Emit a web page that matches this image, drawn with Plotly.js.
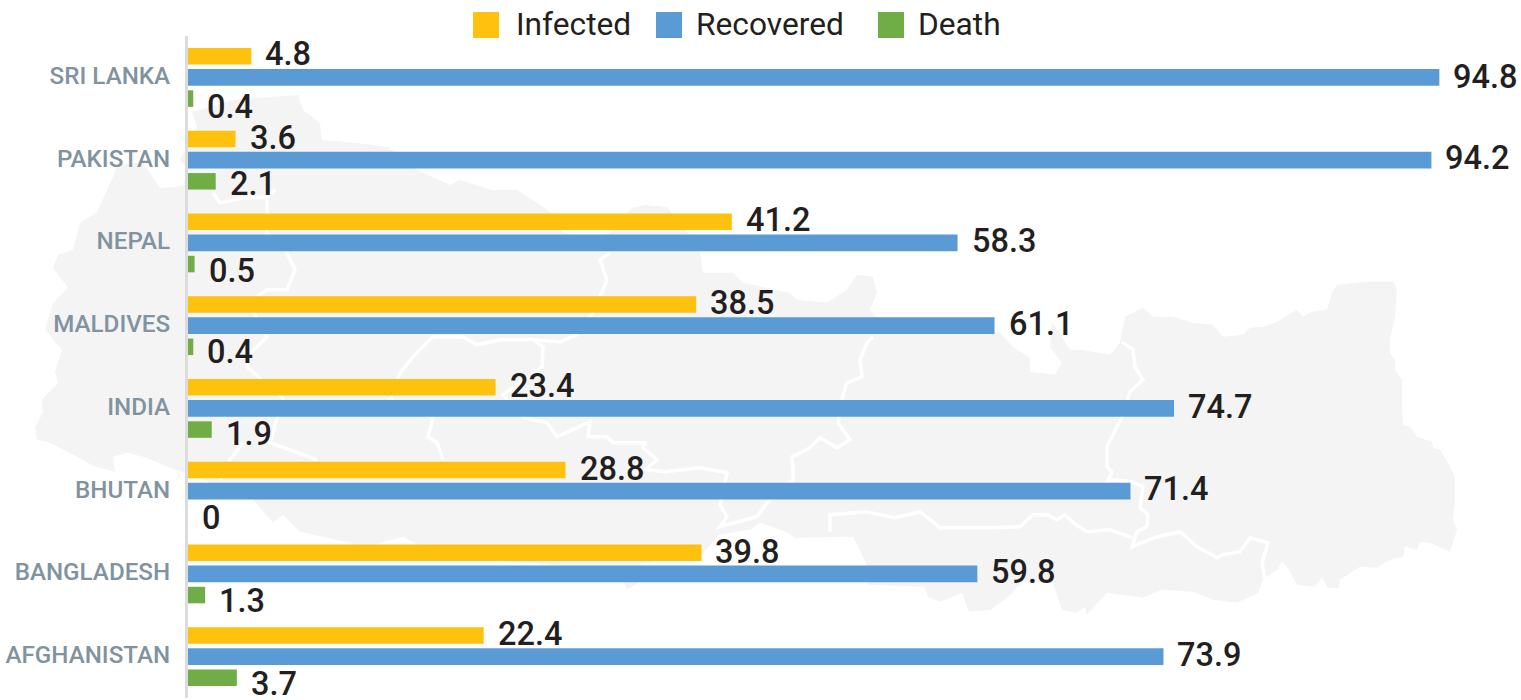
<!DOCTYPE html>
<html>
<head>
<meta charset="utf-8">
<script src="https://cdn.plot.ly/plotly-3.0.1.min.js"></script>
<style>html,body{margin:0;padding:0;background:#fff;overflow:hidden}#chart{width:1521px;height:700px}</style>
</head>
<body>
<div id="chart"></div>
<script>
const categories = ["SRI LANKA","PAKISTAN","NEPAL","MALDIVES","INDIA","BHUTAN","BANGLADESH","AFGHANISTAN"];
// Bar lengths as drawn in the reference
const infected  = [4.8,3.6,41.2,38.5,23.3,28.6,38.9,22.4];
const recovered = [94.8,94.2,58.3,61.1,74.7,71.4,59.8,73.9];
const death     = [0.4,2.1,0.5,0.4,1.8,0,1.3,3.7];
// Printed labels (a few differ slightly from the drawn lengths in the reference)
const infectedLabels  = ["4.8","3.6","41.2","38.5","23.4","28.8","39.8","22.4"];
const recoveredLabels = ["94.8","94.2","58.3","61.1","74.7","71.4","59.8","73.9"];
const deathLabels     = ["0.4","2.1","0.5","0.4","1.9","0","1.3","3.7"];

const W = 1521, H = 700;
const M = {l:188, r:0, t:36, b:1.6};

// Faint backdrop map of the region, traced in page pixels
const backdropOutline = [[192,112],[233,100],[298,95],[303,110],[320,123],[322,140],[357,143],[388,147],[417,170],[450,185],[460,180],[492,190],[517,190],[533,200],[550,212],[563,232],[585,240],[610,233],[632,208],[645,205],[667,207],[687,232],[700,253],[703,273],[733,273],[743,283],[790,293],[797,300],[827,303],[847,290],[857,275],[873,277],[877,293],[870,310],[880,322],[1000,333],[1013,347],[1030,358],[1030,372],[1055,375],[1062,363],[1050,347],[1052,322],[1070,350],[1080,350],[1110,355],[1120,343],[1123,327],[1125,317],[1143,308],[1153,317],[1173,317],[1192,323],[1213,325],[1223,337],[1243,335],[1250,328],[1263,327],[1277,322],[1297,310],[1303,317],[1312,312],[1327,310],[1332,293],[1337,285],[1367,282],[1393,282],[1397,290],[1395,317],[1390,340],[1390,353],[1395,360],[1395,370],[1402,380],[1402,400],[1403,425],[1410,427],[1417,437],[1432,442],[1433,448],[1440,450],[1448,463],[1455,477],[1455,503],[1453,520],[1457,530],[1450,552],[1430,543],[1420,542],[1417,550],[1405,547],[1403,557],[1390,560],[1377,568],[1360,567],[1340,580],[1339,588],[1328,588],[1322,578],[1315,587],[1297,585],[1287,567],[1282,562],[1277,570],[1263,580],[1258,593],[1250,597],[1237,603],[1213,600],[1193,592],[1162,590],[1143,598],[1107,593],[1087,615],[1085,607],[1076,613],[1062,610],[1053,583],[1022,583],[1007,598],[991,610],[969,612],[962,593],[940,602],[928,597],[924,587],[868,585],[867,565],[853,537],[795,538],[786,532],[760,523],[750,530],[719,535],[700,557],[640,563],[638,583],[627,590],[623,582],[600,570],[533,563],[470,560],[433,553],[403,537],[383,542],[365,550],[350,543],[300,532],[283,515],[273,523],[253,500],[185,473],[167,467],[147,458],[127,453],[113,457],[115,472],[95,467],[77,457],[50,443],[37,440],[35,427],[43,413],[42,400],[58,383],[55,372],[62,350],[45,330],[53,303],[68,288],[53,268],[58,255],[73,250],[80,223],[97,212],[113,177],[117,165],[143,163],[160,188],[183,186],[188,170],[180,160],[197,127]];
const backdropBorders = [
  [[1122,342],[1133,350],[1135,367],[1143,380],[1130,392],[1122,417],[1107,447],[1107,467],[1112,473],[1107,482],[1113,480],[1132,482],[1143,487],[1140,508],[1148,515],[1147,527],[1137,532],[1132,547],[1157,537],[1180,532],[1197,547],[1212,555],[1217,558],[1223,555],[1240,552],[1250,538],[1268,543],[1262,563],[1265,582]],
  [[1132,538],[1110,530],[1087,532],[1073,523],[1065,515],[1057,520],[1047,515],[1033,515],[1020,527],[991,528],[940,528],[920,512],[895,518],[866,512],[830,515],[830,532]],
  [[873,337],[867,343],[860,360],[862,377],[847,383],[843,395],[838,423],[850,440],[837,448],[820,438],[810,448],[792,457],[793,470],[793,480],[767,503],[757,517],[727,525],[720,527],[727,517],[720,505],[727,473],[700,468],[665,472],[645,470],[657,460],[643,448],[645,443],[613,443],[607,437],[588,437],[590,422],[557,437],[547,423],[523,418],[503,395],[542,367],[543,347],[533,340],[560,342],[577,335],[593,313],[607,280],[600,260],[610,253]],
  [[530,340],[500,340],[477,345],[463,337],[433,337],[413,357],[400,373],[390,400],[433,418],[428,437],[437,443],[443,460]],
  [[213,193],[220,203],[245,198],[267,197],[275,190]],
  [[267,200],[267,233],[287,253],[295,270],[287,290],[267,290],[248,303],[267,337],[247,357],[247,367],[273,390],[283,398],[270,443],[317,460]],
  [[243,443],[230,460],[220,480]]
];

const px = p => ((p[0]-M.l)/(W-M.l-M.r)).toFixed(5)+","+(1-(p[1]-M.t)/(H-M.t-M.b)).toFixed(5);
const toPath = (pts, close) => "M"+pts.map(px).join("L")+(close?"Z":"");
const shapes = [{type:"path",xref:"paper",yref:"paper",layer:"below",path:toPath(backdropOutline,true),fillcolor:"#f4f4f4",line:{width:0}}]
  .concat(backdropBorders.map(b=>({type:"path",xref:"paper",yref:"paper",layer:"below",path:toPath(b,false),line:{color:"#ffffff",width:3.5}})));

const seriesDefs = [
  {name:"Infected",  values:infected,  labels:infectedLabels,  color:"#fec10d", yshift:[23,22,23,23,22,22,22,23]},
  {name:"Recovered", values:recovered, labels:recoveredLabels, color:"#5b9bd5", yshift:[0,2,2,2,1,2,2,2]},
  {name:"Death",     values:death,     labels:deathLabels,     color:"#70ad47", yshift:[-30,-24,-28,-26,-26,-27,-27,-27]}
];
const traces = seriesDefs.map(s=>({type:"bar",orientation:"h",name:s.name,y:categories,x:s.values,marker:{color:s.color},hoverinfo:"x+y"}));
const annotations = [];
seriesDefs.forEach(s=>s.labels.forEach((t,i)=>annotations.push({
  x:s.values[i],y:categories[i],xref:"x",yref:"y",text:t,showarrow:false,xanchor:"left",yanchor:"middle",
  xshift:12,yshift:s.yshift[i],font:{family:"Roboto",size:32.5,color:"#231f20",weight:500}
})));

const layout = {
  width:W,height:H,margin:M,paper_bgcolor:"rgba(0,0,0,0)",plot_bgcolor:"rgba(0,0,0,0)",
  barmode:"group",bargap:0.232,bargroupgap:0.22,
  font:{family:"Roboto"},
  xaxis:{range:[0,(W-M.l)/13.2],visible:false,fixedrange:true},
  yaxis:{type:"category",range:[categories.length-0.5,-0.5],showline:true,linecolor:"#dcdcdc",linewidth:3,showgrid:false,
    ticks:"outside",ticklen:10,tickcolor:"rgba(0,0,0,0)",tickwidth:1,zeroline:false,
    tickfont:{family:"Roboto",size:24.2,color:"#81939f",weight:500},fixedrange:true},
  showlegend:true,
  legend:{orientation:"h",x:0.2,xanchor:"left",y:0.9,yanchor:"top",font:{family:"Roboto",size:31.7,color:"#231f20"},itemclick:false,itemdoubleclick:false,bgcolor:"rgba(0,0,0,0)",itemwidth:30},
  shapes,annotations
};

const legendSwatchCenters = [486,669,891];
const legendTextStarts = [516,696,918];

Plotly.newPlot("chart",traces,layout,{displayModeBar:false,responsive:false}).then(gd=>{
  gd.querySelectorAll(".ytick text").forEach(t=>t.setAttribute("y",String(parseFloat(t.getAttribute("y"))-2)));
  // The legend swatches are larger and more widely spaced in the reference than Plotly's fixed layout
  gd.querySelectorAll(".legend [clip-path]").forEach(e=>e.removeAttribute("clip-path"));
  gd.querySelectorAll(".legend .traces").forEach((g,i)=>{
    const p = g.querySelector(".legendbar path, .legendpoints path");
    const t = g.querySelector("text.legendtext");
    p.setAttribute("d","M13,13H-13V-13H13Z");
    const r = p.getBoundingClientRect();
    const m = /translate\(\s*([-\d.]+)[ ,]+([-\d.]+)/.exec(g.getAttribute("transform")||"translate(0,0)");
    const dx = legendSwatchCenters[i]-(r.left+r.width/2), dy = 25-(r.top+r.height/2);
    g.setAttribute("transform",`translate(${parseFloat(m[1])+dx},${parseFloat(m[2])+dy})`);
    const tr = t.getBoundingClientRect();
    t.setAttribute("x",String(parseFloat(t.getAttribute("x")||0)+legendTextStarts[i]-tr.left));
    t.setAttribute("y",String(parseFloat(t.getAttribute("y")||0)-2));
  });
});
</script>
</body>
</html>
